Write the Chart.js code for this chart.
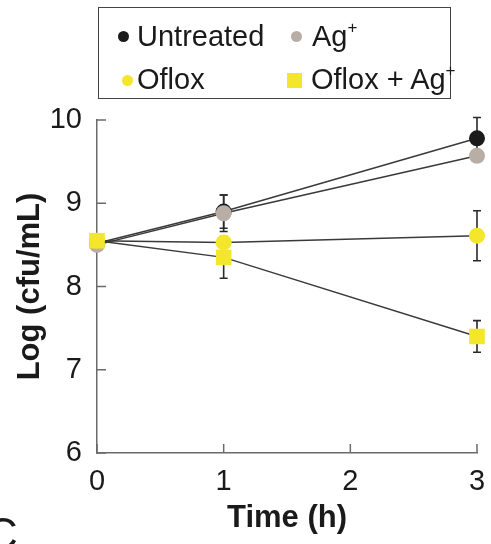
<!DOCTYPE html>
<html>
<head>
<meta charset="utf-8">
<script src="https://cdn.jsdelivr.net/npm/chart.js@4"></script>
<style>
  body { margin: 0; background: #fff; }
  #wrap { position: relative; width: 491px; height: 544px; overflow: hidden; font-family: "Liberation Sans", Arial, sans-serif; color: #1a1a1a; }
  #legend { position: absolute; left: 98px; top: 7px; width: 351px; height: 90px; border: 1.5px solid #444; }
  .item { position: absolute; font-size: 29px; line-height: 29px; white-space: nowrap; }
  .item sup { font-size: 17px; position: relative; top: -3px; vertical-align: top; line-height: 17px; }
  .mk { position: absolute; }
  #panel { position: absolute; left: -14px; top: 512px; font-size: 44px; line-height: 44px; }
</style>
</head>
<body>
<div id="wrap">
  <canvas id="myChart" width="491" height="544"></canvas>
  <div id="legend"></div>
  <div id="panel">C</div>
</div>
<script>
  // dados
  const times = [0, 1, 3];
  const untreated = [8.52, 8.90, 9.78];
  const untreatedErr = [0.05, 0.20, 0.25];
  const silver = [8.50, 8.88, 9.57];
  const silverErr = [0.05, 0.22, 0.05];
  const oflox = [8.55, 8.53, 8.61];
  const ofloxErr = [0.05, 0.05, 0.30];
  const ofloxSilver = [8.55, 8.35, 7.40];
  const ofloxSilverErr = [0.05, 0.25, 0.19];
  const yTicks = [6, 7, 8, 9, 10];
  const xTicks = [0, 1, 2, 3];

  const black = '#1b1b1b';
  const gray = '#b9aea6';
  const yellow = '#f4e62a';

  function pts(values) {
    return times.map((t, i) => ({ x: t, y: values[i] }));
  }

  // legenda em HTML (para o Ag sobrescrito)
  const legend = document.getElementById('legend');
  const legendItems = [
    { text: 'Untreated', color: black, shape: 'circle', x: 38, y: 14, mx: 24, my: 28, size: 11 },
    { text: 'Ag<sup>+</sup>', color: gray, shape: 'circle', x: 213, y: 14, mx: 197, my: 28, size: 11 },
    { text: 'Oflox', color: yellow, shape: 'circle', x: 38, y: 57, mx: 28, my: 72, size: 11 },
    { text: 'Oflox + Ag<sup>+</sup>', color: yellow, shape: 'square', x: 212, y: 57, mx: 195, my: 72, size: 15 }
  ];
  legendItems.forEach(it => {
    const mk = document.createElement('div');
    mk.className = 'mk';
    mk.style.left = (it.mx - it.size / 2) + 'px';
    mk.style.top = (it.my - it.size / 2) + 'px';
    mk.style.width = it.size + 'px';
    mk.style.height = it.size + 'px';
    mk.style.background = it.color;
    if (it.shape === 'circle') mk.style.borderRadius = '50%';
    legend.appendChild(mk);
    const label = document.createElement('div');
    label.className = 'item';
    label.style.left = it.x + 'px';
    label.style.top = it.y + 'px';
    label.innerHTML = it.text;
    legend.appendChild(label);
  });

  // barras de erro desenhadas com as escalas do gráfico
  const errorBars = {
    id: 'errorBars',
    beforeDatasetsDraw(chart) {
      const ctx = chart.ctx;
      const xs = chart.scales.x;
      const ys = chart.scales.y;
      ctx.save();
      ctx.strokeStyle = '#2a2a2a';
      ctx.lineWidth = 1.6;
      chart.data.datasets.forEach(ds => {
        ds.data.forEach((p, i) => {
          const e = ds.errors[i];
          const x = xs.getPixelForValue(p.x);
          const y1 = ys.getPixelForValue(p.y + e);
          const y2 = ys.getPixelForValue(p.y - e);
          ctx.beginPath();
          ctx.moveTo(x, y1); ctx.lineTo(x, y2);
          ctx.moveTo(x - 4, y1); ctx.lineTo(x + 4, y1);
          ctx.moveTo(x - 4, y2); ctx.lineTo(x + 4, y2);
          ctx.stroke();
        });
      });
      ctx.restore();
    }
  };

  // marcas dos eixos voltadas para dentro
  const innerTicks = {
    id: 'innerTicks',
    afterDraw(chart) {
      const ctx = chart.ctx;
      const xs = chart.scales.x;
      const ys = chart.scales.y;
      const area = chart.chartArea;
      ctx.save();
      ctx.strokeStyle = '#6b6b6b';
      ctx.lineWidth = 1.5;
      ctx.beginPath();
      yTicks.forEach(v => {
        const y = ys.getPixelForValue(v);
        ctx.moveTo(area.left, y); ctx.lineTo(area.left + 9, y);
      });
      xTicks.forEach(v => {
        const x = xs.getPixelForValue(v);
        ctx.moveTo(x, area.bottom); ctx.lineTo(x, area.bottom - 9);
      });
      ctx.stroke();
      ctx.restore();
    }
  };

  function makeSet(label, values, errors, color, style, radius, order) {
    return {
      label: label,
      data: pts(values),
      errors: errors,
      borderColor: '#3a3a3a',
      borderWidth: 1.5,
      backgroundColor: color,
      pointBackgroundColor: color,
      pointBorderColor: color,
      pointBorderWidth: 0,
      pointStyle: style,
      pointRadius: radius,
      tension: 0,
      clip: false,
      order: order
    };
  }

  const ctx = document.getElementById('myChart');
  const myChart = new Chart(ctx, {
    type: 'line',
    data: {
      datasets: [
        makeSet('Untreated', untreated, untreatedErr, black, 'circle', 8, 4),
        makeSet('Ag+', silver, silverErr, gray, 'circle', 8, 3),
        makeSet('Oflox', oflox, ofloxErr, yellow, 'circle', 8, 2),
        makeSet('Oflox + Ag+', ofloxSilver, ofloxSilverErr, yellow, 'rect', 11, 1)
      ]
    },
    options: {
      responsive: false,
      animation: false,
      layout: { padding: { top: 120, right: 14, left: 0, bottom: 0 } },
      plugins: {
        legend: { display: false },
        tooltip: { enabled: false }
      },
      scales: {
        x: {
          type: 'linear',
          min: 0,
          max: 3,
          afterBuildTicks: s => { s.ticks = xTicks.map(v => ({ value: v })); },
          afterFit: s => { s.height = 91; s.paddingLeft = 0; s.paddingRight = 0; },
          grid: { display: true, drawOnChartArea: false, drawTicks: false },
          border: { color: '#6b6b6b', width: 1.5 },
          ticks: { color: '#1a1a1a', padding: 12, maxRotation: 0, font: { family: 'Liberation Sans', size: 29 } },
          title: {
            display: true,
            text: 'Time (h)',
            color: '#1a1a1a',
            padding: { top: 0, bottom: 7 },
            font: { family: 'Liberation Sans', size: 31, weight: 'bold' }
          }
        },
        y: {
          min: 6,
          max: 10,
          afterBuildTicks: s => { s.ticks = yTicks.map(v => ({ value: v })); },
          afterFit: s => { s.width = 97; s.paddingTop = 0; s.paddingBottom = 0; },
          grid: { display: true, drawOnChartArea: false, drawTicks: false },
          border: { color: '#6b6b6b', width: 1.5 },
          ticks: { color: '#1a1a1a', padding: 15, font: { family: 'Liberation Sans', size: 29 } },
          title: {
            display: true,
            text: 'Log (cfu/mL)',
            color: '#1a1a1a',
            padding: { top: 12, bottom: 0 },
            font: { family: 'Liberation Sans', size: 31, weight: 'bold' }
          }
        }
      }
    },
    plugins: [errorBars, innerTicks]
  });
</script>
</body>
</html>
